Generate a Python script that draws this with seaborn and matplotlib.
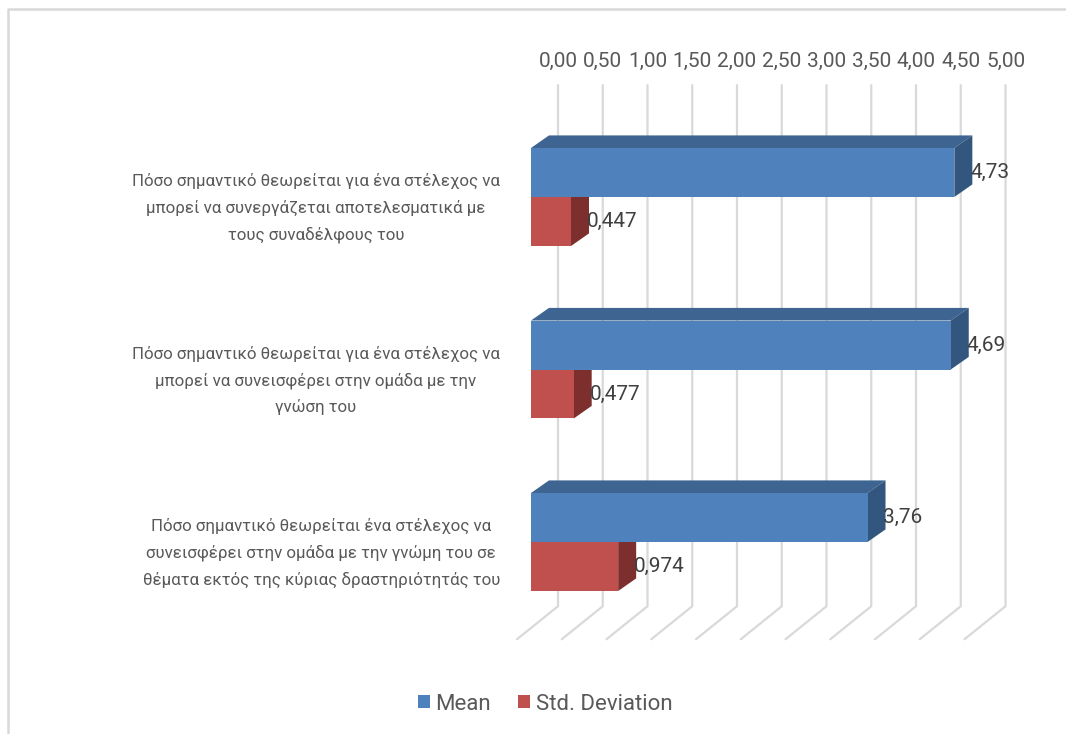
import numpy as np
import pandas as pd
import matplotlib
matplotlib.use("Agg")
import matplotlib.pyplot as plt
from matplotlib.patches import Polygon, Patch
from matplotlib.lines import Line2D
from matplotlib.transforms import (blended_transform_factory, IdentityTransform,
                                   offset_copy)
import seaborn as sns

# ---- data -------------------------------------------------------------
questions = [
    "Πόσο σημαντικό θεωρείται για ένα στέλεχος να\n"
    "μπορεί να συνεργάζεται αποτελεσματικά με\n"
    "τους συναδέλφους του",
    "Πόσο σημαντικό θεωρείται για ένα στέλεχος να\n"
    "μπορεί να συνεισφέρει στην ομάδα με την\n"
    "γνώση του",
    "Πόσο σημαντικό θεωρείται ένα στέλεχος να\n"
    "συνεισφέρει στην ομάδα με την γνώμη του σε\n"
    "θέματα εκτός της κύριας δραστηριότητάς του",
]
mean_values = [4.73, 4.69, 3.76]
std_values = [0.447, 0.477, 0.974]
series_names = ["Mean", "Std. Deviation"]
tick_values = [0.0, 0.5, 1.0, 1.5, 2.0, 2.5, 3.0, 3.5, 4.0, 4.5, 5.0]

df = pd.DataFrame({
    "question": questions * 2,
    "value": mean_values + std_values,
    "series": [series_names[0]] * 3 + [series_names[1]] * 3,
})

# ---- styling ----------------------------------------------------------
sns.set_theme(style="white")
plt.rcParams["font.family"] = ["Roboto", "DejaVu Sans"]

front_colors = {"Mean": "#4F81BD", "Std. Deviation": "#C0504D"}
top_colors = {"Mean": "#3E6591", "Std. Deviation": "#963F3C"}
side_colors = {"Mean": "#33567F", "Std. Deviation": "#7D2F2D"}
label_fmt = {"Mean": "{:.2f}", "Std. Deviation": "{:.3f}"}
grid_color = "#D9D9D9"
text_color = "#595959"

W, H = 1066, 734
fig = plt.figure(figsize=(W / 100, H / 100), dpi=100)
ax = fig.add_axes([531 / W, 1 - 628.25 / H, 447.5 / W, 517.5 / H])

sns.barplot(data=df, y="question", x="value", hue="series", orient="h",
            order=questions, hue_order=series_names, palette=front_colors,
            width=0.568, dodge=True, saturation=1, legend=False,
            linewidth=0, ax=ax, zorder=3)
ax.set_xlim(0, 5)
ax.set_ylim(2.5, -0.5)
ax.set_axis_off()

# oblique depth offsets (pixels): bar depth, back wall, front edge of floor
BAR_DX, BAR_DY = 18, 12.6
WALL_DX, WALL_DY = 27, 22
FLOOR_DX, FLOOR_DY = -14, -11

blend = blended_transform_factory(ax.transData, ax.transAxes)


def to_px(x, y_axes, ox=0.0, oy=0.0):
    px, py = blend.transform((x, y_axes))
    return px + ox, py + oy


# back wall grid lines and floor lines, value labels above the wall
for v in tick_values:
    x0, y0 = to_px(v, 0, WALL_DX, WALL_DY)
    x1, y1 = to_px(v, 1.007, WALL_DX, WALL_DY)
    x2, y2 = to_px(v, 0, FLOOR_DX, FLOOR_DY)
    ax.add_line(Line2D([x2, x0, x1], [y2, y0, y1], transform=IdentityTransform(),
                       color=grid_color, lw=1.6, zorder=1, clip_on=False))
    ax.text(x1, y1 + 24, f"{v:.2f}".replace(".", ","), transform=IdentityTransform(),
            ha="center", va="center", fontsize=15, color=text_color)

# top and side faces of each bar
for name, container in zip(series_names, ax.containers):
    for rect in container:
        xa, ya = ax.transData.transform((rect.get_x(), rect.get_y()))
        xb, yb = ax.transData.transform((rect.get_x() + rect.get_width(),
                                         rect.get_y() + rect.get_height()))
        left, right = min(xa, xb), max(xa, xb)
        bottom, top = min(ya, yb), max(ya, yb)
        top_face = [(left, top), (left + BAR_DX, top + BAR_DY),
                    (right + BAR_DX, top + BAR_DY), (right, top)]
        side_face = [(right, bottom), (right, top),
                     (right + BAR_DX, top + BAR_DY), (right + BAR_DX, bottom + BAR_DY)]
        ax.add_patch(Polygon(top_face, closed=True, transform=IdentityTransform(),
                             facecolor=top_colors[name], edgecolor="none",
                             zorder=2, clip_on=False))
        ax.add_patch(Polygon(side_face, closed=True, transform=IdentityTransform(),
                             facecolor=side_colors[name], edgecolor="none",
                             zorder=2, clip_on=False))
    labels = [label_fmt[name].format(r.get_width()).replace(".", ",")
              for r in container]
    ax.bar_label(container, labels=labels, padding=11.5, fontsize=15,
                 color="#404040", clip_on=False)

# category labels sit on the front edge of the floor
cat_trans = offset_copy(ax.transData, fig=fig, x=FLOOR_DX - 17, y=FLOOR_DY,
                        units="dots")
for i, q in enumerate(questions):
    ax.text(0, i, q, transform=cat_trans, ha="right", va="center",
            multialignment="center", fontsize=12.2, linespacing=1.8,
            color=text_color)

# legend
handles = [Patch(facecolor=front_colors[n], edgecolor="none", label=n)
           for n in series_names]
fig.legend(handles=handles, loc="center", bbox_to_anchor=(545 / W, 1 - 704 / H),
           ncol=2, frameon=False, fontsize=16, handlelength=0.55,
           handleheight=0.55, handletextpad=0.25, columnspacing=1.2,
           labelcolor=text_color)

# chart area border (top and left edges)
fig.add_artist(Line2D([8 / W, 8 / W, 1.0], [0.0, 1 - 9 / H, 1 - 9 / H],
                      transform=fig.transFigure, color=grid_color, lw=1.8))

fig.savefig("out.png", dpi=100)
